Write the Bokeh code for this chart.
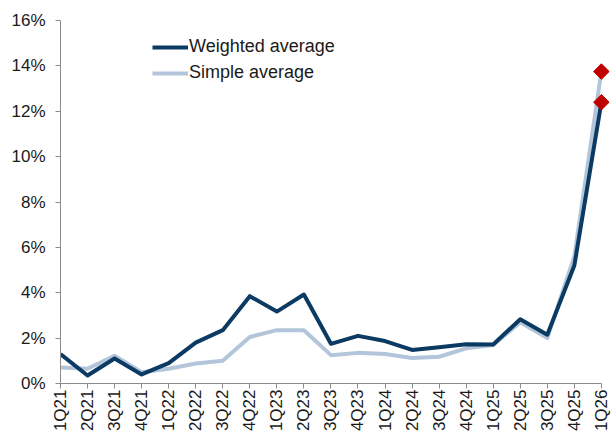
import math

from bokeh.plotting import figure
from bokeh.models import Range1d, Legend, LegendItem, FixedTicker
from bokeh.embed import file_html
from bokeh.resources import INLINE

# Quarterly series (values in percent)
quarters = ["1Q21", "2Q21", "3Q21", "4Q21", "1Q22", "2Q22", "3Q22", "4Q22",
            "1Q23", "2Q23", "3Q23", "4Q23", "1Q24", "2Q24", "3Q24", "4Q24",
            "1Q25", "2Q25", "3Q25", "4Q25", "1Q26"]
weighted = [1.30, 0.35, 1.10, 0.40, 0.90, 1.80, 2.35, 3.85, 3.17, 3.92, 1.75,
            2.10, 1.87, 1.48, 1.60, 1.73, 1.72, 2.83, 2.15, 5.20, 12.40]
simple = [0.70, 0.65, 1.22, 0.50, 0.65, 0.88, 1.00, 2.05, 2.35, 2.35, 1.25,
          1.35, 1.30, 1.12, 1.18, 1.55, 1.70, 2.70, 2.00, 5.60, 13.75]
y_ticks = [0, 2, 4, 6, 8, 10, 12, 14, 16]

DARK = "#0b3a62"
LIGHT = "#b3c5da"
RED = "#c00000"
FONT = "Liberation Sans"

xs = list(range(len(quarters)))

p = figure(width=611, height=435, output_backend="svg", toolbar_location=None,
           x_range=Range1d(0, 20.3), y_range=Range1d(0, 16),
           min_border_left=60, min_border_right=2, min_border_top=20,
           min_border_bottom=52)
p.outline_line_color = None
p.xgrid.visible = False
p.ygrid.visible = False
p.background_fill_color = "white"
p.border_fill_color = "white"

rs = p.line(xs, simple, line_color=LIGHT, line_width=4, line_join="round")
rw = p.line(xs, weighted, line_color=DARK, line_width=4, line_join="round")

# latest quarter highlighted with rotated squares
p.scatter([xs[-1], xs[-1]], [weighted[-1], simple[-1]], marker="square",
          angle=math.pi / 4, size=11, color=RED)

for ax in (p.xaxis[0], p.yaxis[0]):
    ax.axis_line_color = "#8c8c8c"
    ax.major_tick_line_color = "#8c8c8c"
    ax.major_tick_out = 5
    ax.major_tick_in = 0
    ax.minor_tick_line_color = None
    ax.major_label_text_font = FONT
    ax.major_label_text_font_size = "17px"
    ax.major_label_text_color = "#1a1a1a"

p.xaxis[0].ticker = FixedTicker(ticks=xs)
p.xaxis[0].major_label_overrides = {i: q for i, q in zip(xs, quarters)}
p.xaxis[0].major_label_orientation = math.pi / 2
p.xaxis[0].major_label_standoff = 1
p.xaxis[0].bounds = (0, 20)

p.yaxis[0].ticker = FixedTicker(ticks=y_ticks)
p.yaxis[0].major_label_overrides = {t: f"{t}%" for t in y_ticks}
p.yaxis[0].major_label_standoff = 10
p.yaxis[0].bounds = (0, 16)

legend = Legend(items=[LegendItem(label="Weighted average", renderers=[rw]),
                       LegendItem(label="Simple average", renderers=[rs])],
                location=(92, 300), orientation="vertical")
legend.border_line_color = None
legend.background_fill_alpha = 0
legend.padding = 0
legend.margin = 0
legend.spacing = 5
legend.glyph_width = 36
legend.glyph_height = 20
legend.label_height = 20
legend.label_standoff = 1
legend.label_text_font = FONT
legend.label_text_font_size = "18px"
legend.label_text_color = "#1a1a1a"
p.add_layout(legend)

open("out.html", "w").write(file_html(p, INLINE))
